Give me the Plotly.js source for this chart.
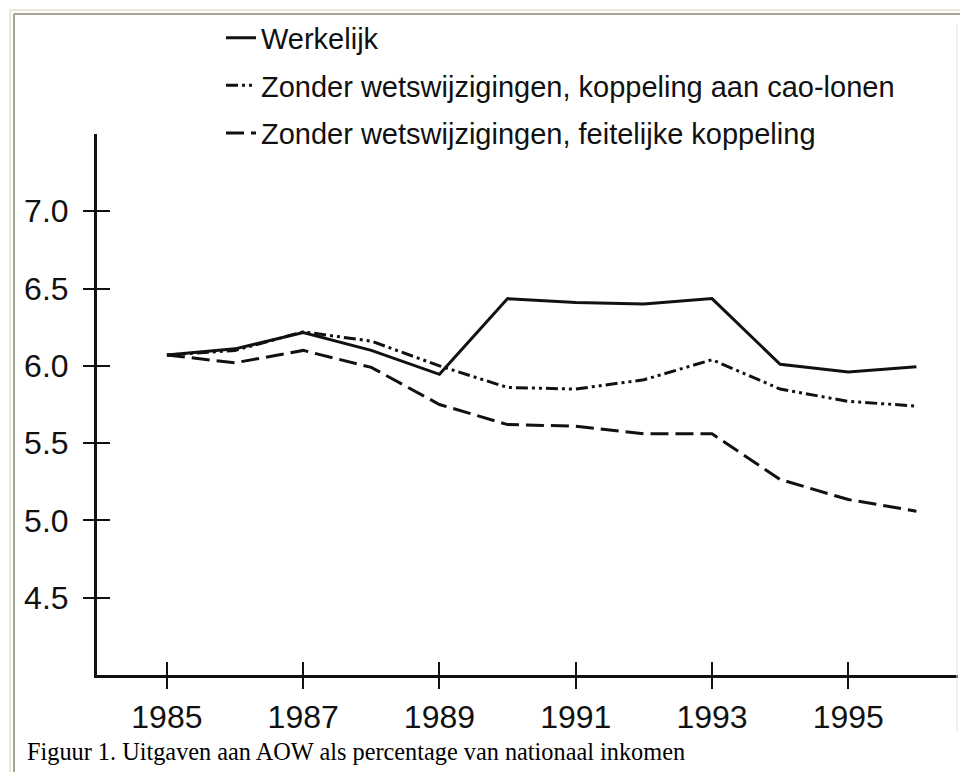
<!DOCTYPE html>
<html>
<head>
<meta charset="utf-8">
<script src="https://cdn.plot.ly/plotly-3.0.1.min.js"></script>
<style>html,body{margin:0;padding:0;background:#fff;}#chart{width:960px;height:772px;}</style>
</head>
<body>
<div id="chart"></div>
<script>
const years = [1985, 1986, 1987, 1988, 1989, 1990, 1991, 1992, 1993, 1994, 1995, 1996];
const werkelijk = [6.07, 6.11, 6.215, 6.10, 5.945, 6.435, 6.41, 6.40, 6.435, 6.01, 5.96, 5.995];
const caoLonen = [6.07, 6.10, 6.22, 6.16, 6.00, 5.86, 5.85, 5.91, 6.04, 5.85, 5.77, 5.74];
const feitelijk = [6.07, 6.02, 6.10, 5.99, 5.75, 5.62, 5.61, 5.56, 5.56, 5.265, 5.135, 5.06];
const seriesNames = ["Werkelijk", "Zonder wetswijzigingen, koppeling aan cao-lonen", "Zonder wetswijzigingen, feitelijke koppeling"];
const xTicks = [1985, 1987, 1989, 1991, 1993, 1995];
const yTicks = [4.5, 5.0, 5.5, 6.0, 6.5, 7.0];
const yTickText = ["4.5", "5.0", "5.5", "6.0", "6.5", "7.0"];
const caption = "Figuur 1. Uitgaven aan AOW als percentage van nationaal inkomen";

const ink = "#111111";
const sans = "Liberation Sans, Arial, Helvetica, sans-serif";
const xRange = [1983.974, 1996.61];
const yRange = [4.0, 7.5];

const traces = [
  {x: years, y: werkelijk, name: seriesNames[0], mode: "lines", legendgroup: "a",
   line: {color: ink, width: 3}},
  {x: years, y: caoLonen, name: seriesNames[1], mode: "lines", legendgroup: "b",
   yaxis: "y2",
   line: {color: ink, width: 3, dash: "12px,4px,3px,4px,3px,4px"}},
  {x: years, y: feitelijk, name: seriesNames[2], mode: "lines", legendgroup: "c",
   xaxis: "x2",
   line: {color: ink, width: 3, dash: "18px,7px"}}
];

const layout = {
  width: 960, height: 772,
  margin: {l: 97, r: 2, t: 134, b: 97},
  paper_bgcolor: "#ffffff", plot_bgcolor: "#ffffff",
  showlegend: true,
  legend: {
    x: 0.144, y: 1.225, xanchor: "left", yanchor: "top",
    font: {family: sans, size: 29, color: ink},
    bgcolor: "rgba(0,0,0,0)", tracegroupgap: 7, traceorder: "grouped"
  },
  xaxis: {
    range: xRange, tickvals: xTicks, ticktext: xTicks.map(String),
    ticks: "outside", ticklen: 11, tickwidth: 2, tickcolor: ink,
    showline: true, linewidth: 3, linecolor: ink,
    showgrid: false, zeroline: false,
    tickfont: {family: sans, size: 32, color: ink}, ticklabelstandoff: 1
  },
  yaxis: {
    range: yRange, tickvals: yTicks, ticktext: yTickText,
    ticks: "outside", ticklen: 11, tickwidth: 2, tickcolor: ink,
    showline: true, linewidth: 3, linecolor: ink,
    showgrid: false, zeroline: false,
    tickfont: {family: sans, size: 32, color: ink}, ticklabelstandoff: 8
  },
  xaxis2: {
    overlaying: "x", anchor: "y", side: "bottom", range: xRange, tickmode: "array", tickvals: xTicks,
    ticks: "inside", ticklen: 13, tickwidth: 2, tickcolor: ink,
    showticklabels: false, showline: false, showgrid: false, zeroline: false
  },
  yaxis2: {
    overlaying: "y", anchor: "x", side: "left", range: yRange, tickmode: "array", tickvals: yTicks,
    ticks: "inside", ticklen: 13, tickwidth: 2, tickcolor: ink,
    showticklabels: false, showline: false, showgrid: false, zeroline: false
  },
  shapes: [
    {type: "line", xref: "paper", yref: "paper", x0: -0.1010, x1: 1.01, y0: 1.2292, y1: 1.2292, line: {color: "#ebe8da", width: 2}},
    {type: "line", xref: "paper", yref: "paper", x0: -0.0964, x1: 1.01, y0: 1.2218, y1: 1.2218, line: {color: "#aaa593", width: 2}},
    {type: "line", xref: "paper", yref: "paper", x0: -0.1010, x1: -0.1010, y0: 1.2292, y1: -0.19, line: {color: "#ebe8da", width: 2}},
    {type: "line", xref: "paper", yref: "paper", x0: -0.0964, x1: -0.0964, y0: 1.2218, y1: -0.19, line: {color: "#aaa593", width: 2}},
    {type: "line", xref: "paper", yref: "paper", x0: 0.9988, x1: 0.9988, y0: 1.2033, y1: -0.1054, line: {color: "#e4e4e4", width: 1}}
  ],
  annotations: [
    {text: caption, xref: "paper", yref: "paper", x: -0.0836, y: -0.1423,
     xanchor: "left", yanchor: "middle", showarrow: false,
     font: {family: "Liberation Serif, Times New Roman, serif", size: 24.3, color: "#000"}}
  ]
};

Plotly.newPlot("chart", traces, layout, {displayModeBar: false, staticPlot: true});
</script>
</body>
</html>
